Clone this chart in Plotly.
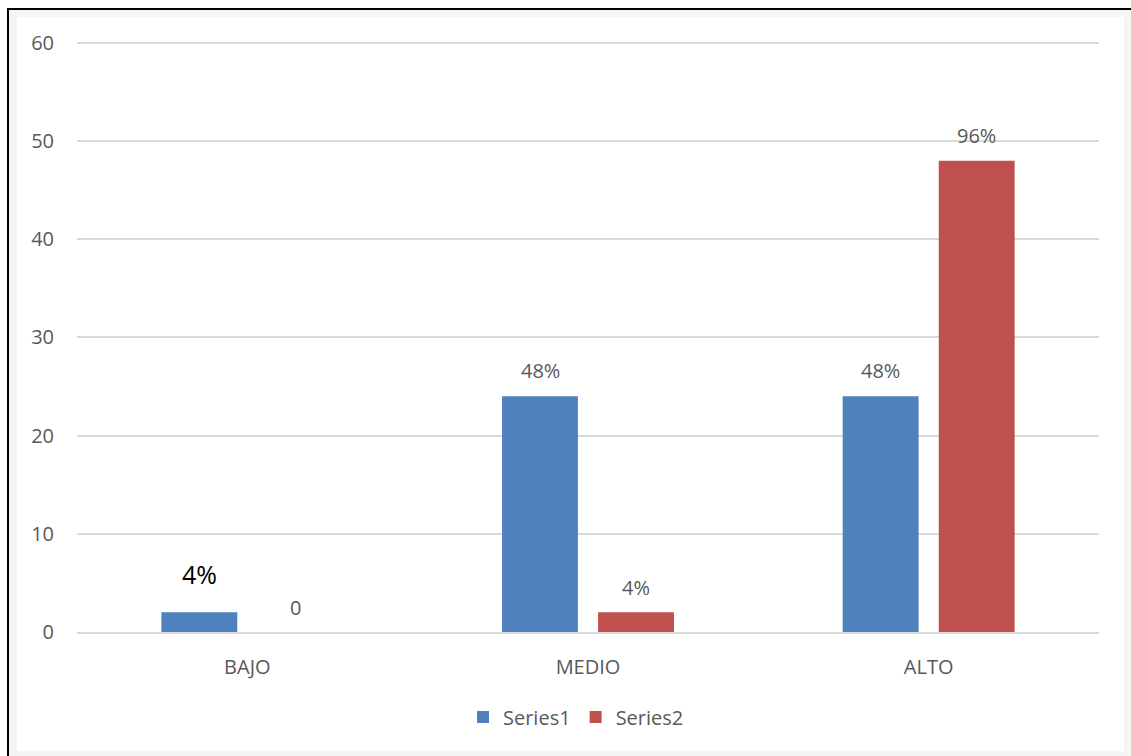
import plotly.graph_objects as go

categories = ["BAJO", "MEDIO", "ALTO"]
series1 = [2, 24, 24]
series2 = [0, 2, 48]
labels1 = ["4%", "48%", "48%"]
labels2 = ["0", "4%", "96%"]
yticks = [0, 10, 20, 30, 40, 50, 60]

BLUE = "#4F81BD"
RED = "#C0504D"
GRAY = "#595959"
FONT = "Open Sans, Liberation Sans, sans-serif"

# plot-area geometry in pixels (for converting frame pixels to paper coords)
L, R, T, B = 77, 32, 38, 124
W, H = 1131, 756
PW, PH = W - L - R, H - T - B


def px(x):
    return (x - L) / PW


def py(y):
    return (H - B - y) / PH


fig = go.Figure()
fig.add_trace(go.Bar(name="Series1", x=categories, y=series1, marker_color=BLUE, marker_line_width=0))
fig.add_trace(go.Bar(name="Series2", x=categories, y=series2, marker_color=RED, marker_line_width=0))

annotations = []
for i, c in enumerate(categories):
    big = (i == 0)
    annotations.append(dict(
        x=c, y=series1[i], xref="x", yref="y", text=labels1[i], showarrow=False,
        xshift=-48, yshift=38 if big else 26,
        font=dict(family=FONT, size=25 if big else 20, color="#000000" if big else GRAY)))
    annotations.append(dict(
        x=c, y=series2[i], xref="x", yref="y", text=labels2[i], showarrow=False,
        xshift=48, yshift=25,
        font=dict(family=FONT, size=20, color=GRAY)))

shapes = [
    # gray frame with black top/left edge
    dict(type="rect", xref="paper", yref="paper", x0=px(8), x1=px(1145), y0=py(770), y1=py(9),
         fillcolor="#F5F5F5", line=dict(color="#000000", width=2), layer="below"),
    # white chart area
    dict(type="rect", xref="paper", yref="paper", x0=px(17), x1=px(1124), y0=py(751), y1=py(17),
         fillcolor="#FFFFFF", line=dict(width=0), layer="below"),
]

fig.update_layout(
    width=W, height=H,
    margin=dict(l=L, r=R, t=T, b=B),
    paper_bgcolor="white", plot_bgcolor="rgba(0,0,0,0)",
    barmode="group", bargap=0.436, bargroupgap=0.21,
    font=dict(family=FONT, size=20, color=GRAY),
    showlegend=True,
    legend=dict(orientation="h", x=px(576), xanchor="center", y=py(717), yanchor="middle",
                font=dict(family=FONT, size=20, color=GRAY), itemwidth=30),
    annotations=annotations,
    shapes=shapes,
)
fig.update_yaxes(range=[0, 60.5], tickvals=yticks, showgrid=True, gridcolor="#D9D9D9", gridwidth=1.5,
                 zeroline=False, showline=False, ticks="", ticklabelstandoff=22,
                 tickfont=dict(family=FONT, size=20, color=GRAY))
fig.update_xaxes(showline=True, linecolor="#D9D9D9", linewidth=1.5, ticks="", ticklabelstandoff=16,
                 tickfont=dict(family=FONT, size=20, color=GRAY))

fig.write_html("out.html")
